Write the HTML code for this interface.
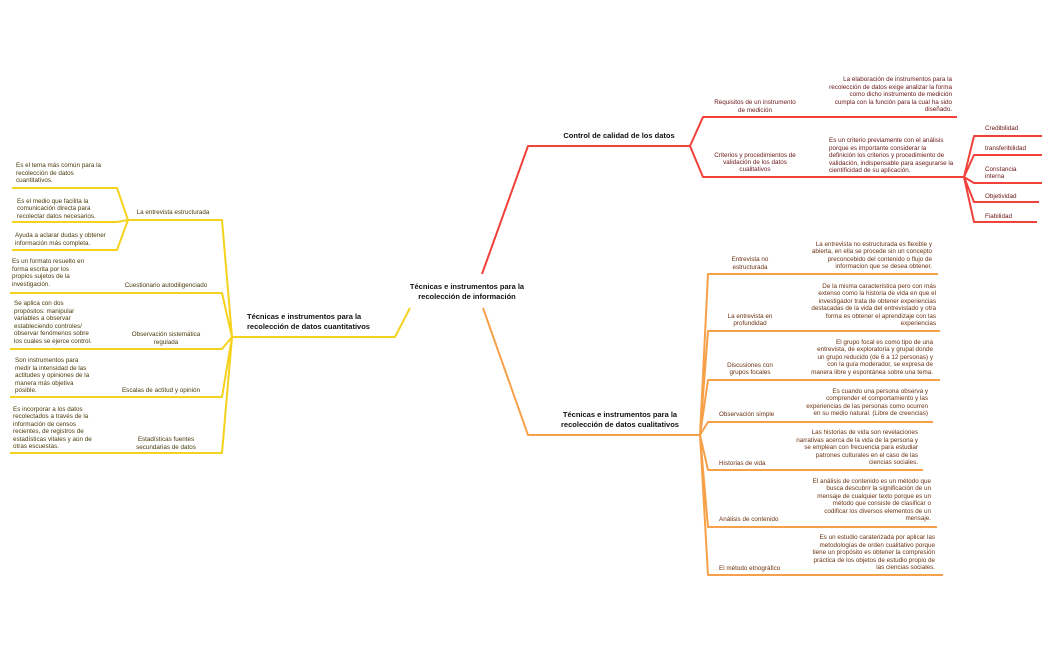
<!DOCTYPE html>
<html><head><meta charset="utf-8"><style>
html,body{margin:0;padding:0;background:#fff;}
svg{display:block;font-family:"Liberation Sans",sans-serif;}
.s{font-size:6.3px;}
.y{fill:#4a3a0a;}
.r{fill:#6a1515;}
.o{fill:#6a3210;}
.m{font-size:7.5px;fill:#111;font-weight:bold;}
</style></head><body>
<svg width="1050" height="650" viewBox="0 0 1050 650">
<g fill="none" stroke-width="2" stroke-linejoin="round">
<path d="M482 274 L528 146 L690 146" stroke="#f0413a"/>
<path d="M690 146 L703 117 L957 117 M690 146 L703 177 L964 177" stroke="#f0413a"/>
<path d="M964 177 L974 136 L1042 136 M964 177 L974 155 L1042 155 M964 177 L974 183 L1042 183 M964 177 L974 202 L1039 202 M964 177 L974 222 L1037 222" stroke="#f0413a"/>
<path d="M483 308 L528 435 L700 435" stroke="#f7a04a"/>
<path d="M700 435 L708 274 L938 274 M700 435 L708 331 L940 331 M700 435 L708 380 L940 380 M700 435 L708 422 L933 422 M700 435 L708 470 L923 470 M700 435 L708 527 L937 527 M700 435 L708 575 L943 575" stroke="#f7a04a"/>
<path d="M410 308 L395 337 L232 337" stroke="#f5d21e"/>
<path d="M232 337 L222 220 L128 220 M232 337 L222 293 L10 293 M232 337 L222 349 L10 349 M232 337 L222 397 L10 397 M232 337 L222 453 L10 453" stroke="#f5d21e"/>
<path d="M128 220 L117 188 L12 188 M128 220 L117 222 L12 222 M128 220 L117 250 L12 250" stroke="#f5d21e"/>
</g>
<text class="m" x="467" y="289" text-anchor="middle">Técnicas e instrumentos para la</text>
<text class="m" x="467" y="299" text-anchor="middle">recolección de información</text>
<text class="m" x="619" y="138" text-anchor="middle">Control de calidad de los datos</text>
<text class="m" x="620" y="417" text-anchor="middle">Técnicas e instrumentos para la</text>
<text class="m" x="620" y="427" text-anchor="middle">recolección de datos cualitativos</text>
<text class="m" x="247" y="319">Técnicas e instrumentos para la</text>
<text class="m" x="247" y="329">recolección de datos cuantitativos</text>
<g class="s r">
<text x="755" y="104" text-anchor="middle">Requisitos de un instrumento</text>
<text x="755" y="112" text-anchor="middle">de medición</text>
<text x="952" y="81" text-anchor="end">La elaboración de instrumentos para la</text>
<text x="952" y="89" text-anchor="end">recolección de datos exige analizar la forma</text>
<text x="952" y="96" text-anchor="end">como dicho instrumento de medición</text>
<text x="952" y="104" text-anchor="end">cumpla con la función para la cual ha sido</text>
<text x="952" y="111" text-anchor="end">diseñado.</text>
<text x="755" y="157" text-anchor="middle">Criterios y procedimientos de</text>
<text x="755" y="164" text-anchor="middle">validación de los datos</text>
<text x="755" y="171" text-anchor="middle">cualitativos</text>
<text x="829" y="142">Es un criterio previamente con el análisis</text>
<text x="829" y="150">porque es importante considerar la</text>
<text x="829" y="157">definición los criterios y procedimiento de</text>
<text x="829" y="165">validación, indispensable para asegurarse la</text>
<text x="829" y="172">cientificidad de su aplicación.</text>
<text x="985" y="130">Credibilidad</text>
<text x="985" y="150">transferibilidad</text>
<text x="985" y="171">Constancia</text>
<text x="985" y="178">interna</text>
<text x="985" y="198">Objetividad</text>
<text x="985" y="218">Fiabilidad</text>
</g>
<g class="s o">
<text x="750" y="261" text-anchor="middle">Entrevista no</text>
<text x="750" y="269" text-anchor="middle">estructurada</text>
<text x="932" y="246" text-anchor="end">La entrevista no estructurada es flexible y</text>
<text x="932" y="253" text-anchor="end">abierta, en ella se procede sin un concepto</text>
<text x="932" y="261" text-anchor="end">preconcebido del contenido o flujo de</text>
<text x="932" y="268" text-anchor="end">informacion que se desea obtener.</text>
<text x="750" y="318" text-anchor="middle">La entrevista en</text>
<text x="750" y="325" text-anchor="middle">profundidad</text>
<text x="936" y="288" text-anchor="end">De la misma caracteristica pero con más</text>
<text x="936" y="295" text-anchor="end">extenso como la historia de vida en que el</text>
<text x="936" y="303" text-anchor="end">investigador trata de obtener experiencias</text>
<text x="936" y="310" text-anchor="end">destacadas de la vida del entrevistado y otra</text>
<text x="936" y="318" text-anchor="end">forma es obtener el aprendizaje con las</text>
<text x="936" y="325" text-anchor="end">experiencias</text>
<text x="750" y="367" text-anchor="middle">Discusiones con</text>
<text x="750" y="374" text-anchor="middle">grupos focales</text>
<text x="933" y="344" text-anchor="end">El grupo focal es como tipo de una</text>
<text x="933" y="351" text-anchor="end">entrevista, de exploratoria y grupal donde</text>
<text x="933" y="359" text-anchor="end">un grupo reducido (de 6 a 12 personas) y</text>
<text x="933" y="366" text-anchor="end">con la guía moderador, se expresa de</text>
<text x="933" y="374" text-anchor="end">manera libre y espontánea sobre una tema.</text>
<text x="719" y="416">Observación simple</text>
<text x="928" y="393" text-anchor="end">Es cuando una persona observa y</text>
<text x="928" y="400" text-anchor="end">comprender el comportamiento y las</text>
<text x="928" y="408" text-anchor="end">experiencias de las personas como ocurren</text>
<text x="928" y="415" text-anchor="end">en su medio natural. (Libre de creencias)</text>
<text x="719" y="465">Historias de vida</text>
<text x="918" y="434" text-anchor="end">Las historias de vida son revelaciones</text>
<text x="918" y="442" text-anchor="end">narrativas acerca de la vida de la persona y</text>
<text x="918" y="449" text-anchor="end">se emplean con frecuencia para estudiar</text>
<text x="918" y="457" text-anchor="end">patrones culturales en el caso de las</text>
<text x="918" y="464" text-anchor="end">ciencias sociales.</text>
<text x="719" y="521">Análisis de contenido</text>
<text x="931" y="483" text-anchor="end">El análisis de contenido es un  método que</text>
<text x="931" y="490" text-anchor="end">busca descubrir la significación de un</text>
<text x="931" y="498" text-anchor="end">mensaje  de cualquier texto porque es un</text>
<text x="931" y="505" text-anchor="end">método que consiste de clasificar o</text>
<text x="931" y="513" text-anchor="end">codificar los diversos elementos de un</text>
<text x="931" y="520" text-anchor="end">mensaje.</text>
<text x="719" y="570">El método etnográfico</text>
<text x="935" y="539" text-anchor="end">Es un estudio caraterizada por aplicar las</text>
<text x="935" y="547" text-anchor="end">metodologías de orden cualitativo porque</text>
<text x="935" y="554" text-anchor="end">tiene un propósito es obtener la compresión</text>
<text x="935" y="562" text-anchor="end">práctica de los objetos de estudio propio de</text>
<text x="935" y="569" text-anchor="end">las ciencias sociales.</text>
</g>
<g class="s y">
<text x="16" y="167">Es el tema más común para la</text>
<text x="16" y="175">recolección de datos</text>
<text x="16" y="182">cuantitativos.</text>
<text x="17" y="203">Es el medio que facilita la</text>
<text x="17" y="210">comunicación directa para</text>
<text x="17" y="218">recolectar datos necesarios.</text>
<text x="15" y="237">Ayuda a aclarar dudas y obtener</text>
<text x="15" y="245">información más completa.</text>
<text x="173" y="214" text-anchor="middle">La entrevista estructurada</text>
<text x="12" y="263">Es un formato resuelto en</text>
<text x="12" y="271">forma escrita por los</text>
<text x="12" y="278">propios sujetos de la</text>
<text x="12" y="286">investigación.</text>
<text x="166" y="287" text-anchor="middle">Cuestionario autodiligenciado</text>
<text x="14" y="305">Se aplica con dos</text>
<text x="14" y="313">propósitos: manipular</text>
<text x="14" y="320">variables a observar</text>
<text x="14" y="328">estableciendo controles/</text>
<text x="14" y="335">observar fenómenos sobre</text>
<text x="14" y="343">los cuales se ejerce control.</text>
<text x="166" y="336" text-anchor="middle">Observación sistemática</text>
<text x="166" y="344" text-anchor="middle">regulada</text>
<text x="15" y="362">Son instrumentos para</text>
<text x="15" y="370">medir la intensidad de las</text>
<text x="15" y="377">actitudes y opiniones de la</text>
<text x="15" y="385">manera más objetiva</text>
<text x="15" y="392">posible.</text>
<text x="161" y="392" text-anchor="middle">Escalas de actitud y opinión</text>
<text x="13" y="411">Es incorporar a los datos</text>
<text x="13" y="418">recolectados a través de la</text>
<text x="13" y="426">información de censos</text>
<text x="13" y="433">recientes, de registros de</text>
<text x="13" y="441">estadísticas vitales y aún de</text>
<text x="13" y="448">otras escuestas.</text>
<text x="166" y="441" text-anchor="middle">Estadísticas fuentes</text>
<text x="166" y="449" text-anchor="middle">secundarias de datos</text>
</g>
</svg>
</body></html>
